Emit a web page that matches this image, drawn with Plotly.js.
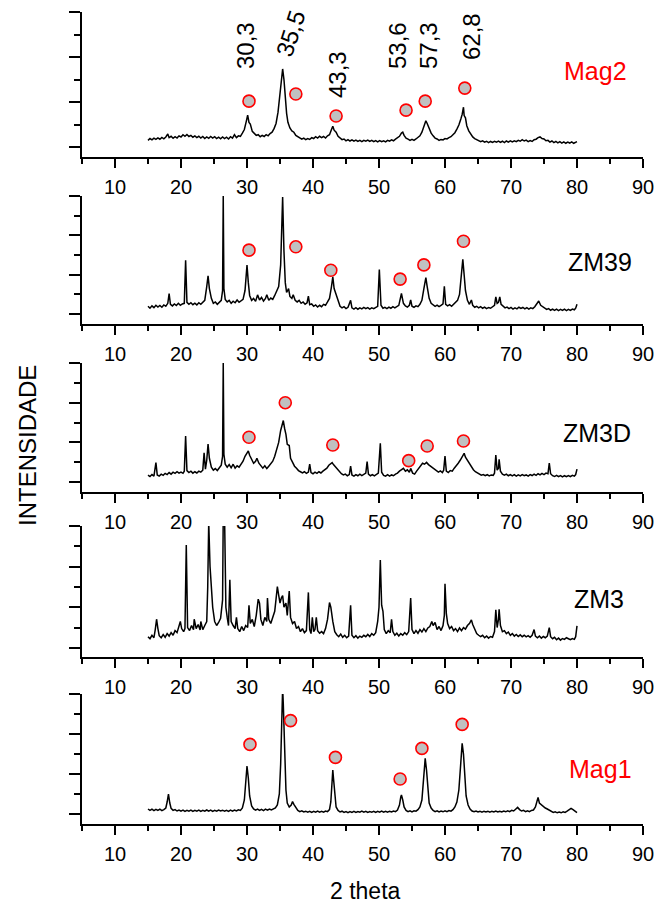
<!DOCTYPE html>
<html>
<head>
<meta charset="utf-8">
<script src="https://cdn.plot.ly/plotly-3.0.1.min.js"></script>
<style>html,body{margin:0;padding:0;background:#fff}#chart{width:657px;height:905px}</style>
</head>
<body>
<div id="chart"></div>
<script>
// ---- data ----
const sampleNames = ["Mag2", "ZM39", "ZM3D", "ZM3", "Mag1"];
const sampleColors = ["#ff0000", "#000000", "#000000", "#000000", "#ff0000"];
const xTicks = [10, 20, 30, 40, 50, 60, 70, 80, 90];
const peakLabels = ["30,3", "35,5", "43,3", "53,6", "57,3", "62,8"];

const mag2 = [[15.0,0.30],[15.3,0.38],[15.6,0.32],[15.9,0.40],[16.2,0.34],[16.5,0.41],[16.8,0.35],[17.1,0.43],[17.4,0.37],[17.7,0.45],[18.0,0.58],[18.2,0.42],[18.5,0.48],[18.8,0.39],[19.1,0.46],[19.4,0.40],[19.7,0.50],[20.0,0.45],[20.3,0.55],[20.6,0.48],[20.9,0.56],[21.2,0.47],[21.5,0.52],[21.8,0.44],[22.1,0.50],[22.4,0.42],[22.7,0.48],[23.0,0.40],[23.3,0.47],[23.6,0.38],[23.9,0.45],[24.2,0.39],[24.5,0.47],[24.8,0.40],[25.1,0.46],[25.4,0.38],[25.7,0.44],[26.0,0.37],[26.3,0.45],[26.6,0.38],[26.9,0.44],[27.2,0.36],[27.5,0.46],[27.8,0.40],[28.1,0.55],[28.4,0.42],[28.7,0.50],[29.0,0.48],[29.3,0.62],[29.6,0.78],[29.9,1.15],[30.1,1.42],[30.3,1.10],[30.5,1.02],[30.8,0.70],[31.1,0.60],[31.4,0.52],[31.7,0.55],[32.0,0.46],[32.3,0.52],[32.6,0.47],[32.9,0.55],[33.2,0.50],[33.5,0.60],[33.8,0.66],[34.1,0.82],[34.4,1.05],[34.7,1.55],[35.0,2.40],[35.2,3.20],[35.4,3.47],[35.6,3.00],[35.8,2.10],[36.0,1.50],[36.2,1.10],[36.5,0.85],[36.8,0.72],[37.1,0.66],[37.4,0.52],[37.7,0.45],[38.0,0.40],[38.3,0.35],[38.6,0.40],[38.9,0.33],[39.2,0.38],[39.5,0.34],[39.8,0.42],[40.1,0.38],[40.4,0.46],[40.7,0.40],[41.0,0.48],[41.3,0.42],[41.6,0.47],[41.9,0.40],[42.2,0.50],[42.5,0.55],[42.8,0.78],[43.0,0.93],[43.2,0.75],[43.5,0.66],[43.8,0.48],[44.1,0.40],[44.4,0.33],[44.7,0.36],[45.0,0.28],[45.3,0.33],[45.6,0.27],[45.9,0.32],[46.2,0.26],[46.5,0.31],[46.8,0.25],[47.1,0.30],[47.4,0.24],[47.7,0.30],[48.0,0.26],[48.3,0.31],[48.6,0.25],[48.9,0.30],[49.2,0.24],[49.5,0.29],[49.8,0.23],[50.1,0.29],[50.4,0.24],[50.7,0.28],[51.0,0.23],[51.3,0.30],[51.6,0.26],[51.9,0.32],[52.2,0.28],[52.5,0.35],[52.8,0.40],[53.1,0.48],[53.4,0.62],[53.6,0.66],[53.8,0.52],[54.1,0.40],[54.4,0.35],[54.7,0.30],[55.0,0.34],[55.3,0.30],[55.6,0.36],[55.9,0.42],[56.2,0.50],[56.5,0.66],[56.8,0.95],[57.1,1.17],[57.3,1.05],[57.6,0.80],[57.9,0.62],[58.2,0.50],[58.5,0.40],[58.8,0.36],[59.1,0.30],[59.4,0.34],[59.7,0.32],[60.0,0.38],[60.3,0.36],[60.6,0.42],[60.9,0.46],[61.2,0.55],[61.5,0.64],[61.8,0.80],[62.1,0.98],[62.4,1.25],[62.6,1.45],[62.8,1.77],[62.9,1.40],[63.1,1.30],[63.3,0.95],[63.6,0.72],[63.9,0.55],[64.2,0.45],[64.5,0.38],[64.8,0.32],[65.1,0.28],[65.4,0.24],[65.7,0.28],[66.0,0.22],[66.3,0.26],[66.6,0.20],[66.9,0.25],[67.2,0.21],[67.5,0.26],[67.8,0.22],[68.1,0.27],[68.4,0.21],[68.7,0.26],[69.0,0.20],[69.3,0.27],[69.6,0.22],[69.9,0.28],[70.2,0.23],[70.5,0.28],[70.8,0.24],[71.1,0.30],[71.4,0.26],[71.7,0.33],[72.0,0.27],[72.3,0.31],[72.6,0.24],[72.9,0.29],[73.2,0.25],[73.5,0.33],[73.8,0.35],[74.1,0.42],[74.4,0.45],[74.7,0.38],[75.0,0.36],[75.3,0.28],[75.6,0.30],[75.9,0.22],[76.2,0.27],[76.5,0.20],[76.8,0.25],[77.1,0.19],[77.4,0.24],[77.7,0.18],[78.0,0.23],[78.3,0.17],[78.6,0.22],[78.9,0.18],[79.2,0.23],[79.5,0.17],[79.8,0.21],[80.0,0.24]];

const zm39 = [[15.0,0.40],[15.3,0.30],[15.6,0.42],[15.9,0.33],[16.2,0.45],[16.5,0.36],[16.8,0.44],[17.1,0.35],[17.4,0.47],[17.7,0.40],[18.0,0.55],[18.2,1.05],[18.4,0.50],[18.7,0.42],[19.0,0.52],[19.3,0.44],[19.6,0.55],[19.9,0.45],[20.2,0.52],[20.5,0.55],[20.7,2.74],[20.9,0.60],[21.2,0.50],[21.5,0.58],[21.8,0.48],[22.1,0.56],[22.4,0.47],[22.7,0.58],[23.0,0.50],[23.3,0.62],[23.6,0.70],[23.9,1.40],[24.1,1.95],[24.3,1.30],[24.6,0.80],[24.9,0.55],[25.2,0.62],[25.5,0.50],[25.8,0.60],[26.1,0.70],[26.3,1.20],[26.4,6.00],[26.5,1.30],[26.7,0.75],[27.0,0.62],[27.3,0.70],[27.6,0.55],[27.9,0.66],[28.2,0.58],[28.5,0.72],[28.8,0.60],[29.1,0.68],[29.4,0.75],[29.7,1.20],[30.0,2.49],[30.2,1.60],[30.4,0.95],[30.7,0.70],[31.0,0.80],[31.3,0.65],[31.6,0.98],[31.9,0.72],[32.2,0.85],[32.5,0.66],[32.8,0.80],[33.0,0.98],[33.3,0.70],[33.6,0.82],[33.9,0.75],[34.2,0.95],[34.5,1.22],[34.8,1.40],[35.1,2.50],[35.4,5.95],[35.6,3.20],[35.8,1.60],[36.0,1.10],[36.3,1.30],[36.5,0.90],[36.8,0.80],[37.0,0.98],[37.3,0.70],[37.6,0.62],[37.9,0.70],[38.2,0.55],[38.5,0.62],[38.8,0.50],[39.1,0.58],[39.3,0.91],[39.5,0.48],[39.8,0.52],[40.1,0.40],[40.4,0.47],[40.7,0.36],[41.0,0.45],[41.3,0.38],[41.6,0.50],[41.9,0.45],[42.2,0.62],[42.5,0.80],[42.8,1.40],[43.0,1.90],[43.2,1.30],[43.5,1.00],[43.8,0.60],[44.1,0.40],[44.4,0.32],[44.7,0.38],[45.0,0.28],[45.3,0.35],[45.7,0.70],[45.9,0.32],[46.2,0.26],[46.5,0.33],[46.8,0.25],[47.1,0.32],[47.4,0.27],[47.7,0.34],[48.0,0.28],[48.3,0.33],[48.6,0.26],[48.9,0.32],[49.2,0.28],[49.5,0.34],[49.8,0.40],[50.05,2.27],[50.3,0.45],[50.6,0.30],[50.9,0.35],[51.2,0.28],[51.5,0.36],[51.8,0.30],[52.1,0.38],[52.4,0.32],[52.7,0.40],[53.0,0.45],[53.4,1.05],[53.7,0.55],[54.0,0.42],[54.3,0.36],[54.6,0.45],[54.8,0.72],[55.0,0.40],[55.3,0.35],[55.6,0.42],[55.9,0.38],[56.2,0.50],[56.5,0.70],[56.8,1.30],[57.1,1.86],[57.3,1.40],[57.6,0.80],[57.9,0.55],[58.2,0.45],[58.5,0.40],[58.8,0.46],[59.1,0.38],[59.4,0.45],[59.7,0.52],[59.9,1.42],[60.1,0.50],[60.4,0.42],[60.7,0.48],[61.0,0.40],[61.3,0.50],[61.6,0.55],[61.9,0.70],[62.2,1.00],[62.5,1.90],[62.7,2.78],[62.9,2.00],[63.1,1.20],[63.4,0.70],[63.7,0.50],[64.0,0.72],[64.2,0.45],[64.5,0.35],[64.8,0.40],[65.1,0.32],[65.4,0.38],[65.7,0.30],[66.0,0.36],[66.3,0.28],[66.6,0.34],[66.9,0.30],[67.2,0.38],[67.5,0.45],[67.7,0.88],[67.9,0.55],[68.1,0.60],[68.3,0.88],[68.5,0.50],[68.8,0.40],[69.1,0.32],[69.4,0.36],[69.7,0.28],[70.0,0.34],[70.3,0.26],[70.6,0.32],[70.9,0.27],[71.2,0.35],[71.5,0.29],[71.8,0.34],[72.1,0.27],[72.4,0.33],[72.7,0.26],[73.0,0.32],[73.3,0.28],[73.6,0.38],[73.9,0.50],[74.2,0.67],[74.5,0.45],[74.8,0.38],[75.1,0.30],[75.4,0.24],[75.7,0.28],[76.0,0.20],[76.3,0.26],[76.6,0.19],[76.9,0.25],[77.2,0.18],[77.5,0.24],[77.8,0.19],[78.1,0.25],[78.4,0.18],[78.7,0.24],[79.0,0.19],[79.3,0.26],[79.6,0.22],[79.8,0.30],[80.0,0.50]];

const zm3d = [[15.0,0.35],[15.3,0.28],[15.6,0.38],[15.9,0.30],[16.2,0.98],[16.4,0.36],[16.7,0.30],[17.0,0.40],[17.3,0.34],[17.6,0.44],[17.9,0.38],[18.2,0.48],[18.5,0.40],[18.8,0.50],[19.1,0.44],[19.4,0.52],[19.7,0.45],[20.0,0.50],[20.3,0.44],[20.5,0.55],[20.7,2.32],[20.9,0.58],[21.2,0.48],[21.5,0.55],[21.8,0.45],[22.1,0.52],[22.4,0.46],[22.7,0.55],[23.0,0.50],[23.3,0.60],[23.5,1.48],[23.7,0.65],[23.9,1.10],[24.1,1.92],[24.3,1.20],[24.6,0.75],[24.9,0.60],[25.2,0.68],[25.5,0.58],[25.8,0.70],[26.1,0.85],[26.3,1.30],[26.4,6.00],[26.5,1.40],[26.7,0.90],[27.0,0.75],[27.3,0.88],[27.6,0.72],[27.9,0.90],[28.2,0.70],[28.5,0.82],[28.8,0.75],[29.1,0.90],[29.4,1.05],[29.7,1.30],[30.0,1.45],[30.2,1.57],[30.4,1.35],[30.7,1.10],[31.0,0.95],[31.3,1.05],[31.5,1.20],[31.8,0.95],[32.1,0.80],[32.4,0.70],[32.7,0.82],[33.0,0.68],[33.3,0.80],[33.6,0.90],[33.9,1.05],[34.2,1.30],[34.5,1.60],[34.8,2.00],[35.1,2.60],[35.3,2.90],[35.5,3.10],[35.7,2.70],[35.9,2.40],[36.1,1.90],[36.4,1.84],[36.6,1.20],[36.9,1.00],[37.2,0.80],[37.5,0.70],[37.8,0.58],[38.1,0.52],[38.4,0.46],[38.7,0.52],[39.0,0.44],[39.3,0.50],[39.5,0.90],[39.7,0.48],[40.0,0.42],[40.3,0.50],[40.6,0.44],[40.9,0.52],[41.2,0.46],[41.5,0.55],[41.8,0.62],[42.1,0.70],[42.4,0.85],[42.7,0.95],[42.9,0.98],[43.1,0.88],[43.4,0.75],[43.7,0.62],[44.0,0.50],[44.3,0.42],[44.6,0.36],[44.9,0.40],[45.2,0.32],[45.5,0.38],[45.7,0.80],[45.9,0.36],[46.2,0.30],[46.5,0.38],[46.8,0.32],[47.1,0.40],[47.4,0.33],[47.7,0.38],[48.0,0.45],[48.2,1.03],[48.4,0.40],[48.7,0.32],[49.0,0.38],[49.3,0.31],[49.6,0.37],[49.9,0.45],[50.2,1.95],[50.4,0.50],[50.7,0.34],[51.0,0.30],[51.3,0.37],[51.6,0.30],[51.9,0.36],[52.2,0.32],[52.5,0.40],[52.8,0.45],[53.1,0.55],[53.4,0.62],[53.7,0.69],[54.0,0.55],[54.3,0.62],[54.6,0.50],[54.8,0.69],[55.1,0.45],[55.4,0.40],[55.7,0.55],[56.0,0.70],[56.3,0.85],[56.6,0.95],[56.9,0.90],[57.2,0.99],[57.5,0.88],[57.8,0.80],[58.1,0.70],[58.4,0.62],[58.7,0.55],[59.0,0.50],[59.3,0.56],[59.6,0.48],[59.8,0.60],[60.0,1.31],[60.2,0.55],[60.5,0.48],[60.8,0.58],[61.1,0.55],[61.4,0.70],[61.7,0.80],[62.0,0.95],[62.3,1.10],[62.6,1.25],[62.9,1.45],[63.1,1.25],[63.4,1.10],[63.7,0.90],[64.0,0.75],[64.3,0.62],[64.6,0.52],[64.9,0.45],[65.2,0.40],[65.5,0.35],[65.8,0.38],[66.1,0.32],[66.4,0.37],[66.7,0.31],[67.0,0.36],[67.3,0.34],[67.5,0.45],[67.7,1.36],[67.9,0.60],[68.1,0.70],[68.2,1.15],[68.4,0.55],[68.7,0.40],[69.0,0.35],[69.3,0.40],[69.6,0.32],[69.9,0.38],[70.2,0.31],[70.5,0.37],[70.8,0.30],[71.1,0.36],[71.4,0.31],[71.7,0.38],[72.0,0.32],[72.3,0.36],[72.6,0.30],[72.9,0.38],[73.2,0.33],[73.5,0.40],[73.8,0.34],[74.1,0.42],[74.4,0.36],[74.7,0.44],[75.0,0.38],[75.3,0.45],[75.6,0.42],[75.8,0.96],[76.0,0.42],[76.3,0.32],[76.6,0.28],[76.9,0.34],[77.2,0.27],[77.5,0.33],[77.8,0.26],[78.1,0.32],[78.4,0.27],[78.7,0.33],[79.0,0.27],[79.3,0.34],[79.6,0.30],[79.8,0.38],[80.0,0.65]];

const zm3 = [[15.0,0.55],[15.3,0.45],[15.6,0.62],[15.9,0.50],[16.1,0.90],[16.3,1.41],[16.5,0.95],[16.7,0.60],[17.0,0.50],[17.3,0.65],[17.6,0.52],[17.9,0.70],[18.2,0.58],[18.5,0.75],[18.8,0.62],[19.1,0.85],[19.4,0.75],[19.7,1.05],[19.9,1.30],[20.1,0.95],[20.4,0.80],[20.6,0.95],[20.8,5.07],[21.0,1.00],[21.3,0.85],[21.6,1.10],[21.9,0.90],[22.0,1.41],[22.3,0.95],[22.6,1.15],[22.9,0.88],[23.0,1.30],[23.3,0.90],[23.6,1.10],[23.9,1.30],[24.05,3.00],[24.2,6.20],[24.4,4.00],[24.6,3.19],[24.8,2.00],[25.1,1.30],[25.4,1.10],[25.7,1.25],[26.0,1.45],[26.3,2.36],[26.4,6.50],[26.6,6.50],[26.8,2.00],[27.0,1.50],[27.2,1.10],[27.4,3.35],[27.6,1.30],[27.9,1.10],[28.2,0.95],[28.4,1.50],[28.6,0.95],[28.9,0.80],[29.2,1.05],[29.5,0.85],[29.8,1.10],[30.1,1.00],[30.3,2.10],[30.5,1.20],[30.8,1.40],[31.1,1.05],[31.4,1.60],[31.7,2.40],[31.9,2.20],[32.1,1.40],[32.4,1.10],[32.7,1.50],[33.0,1.30],[33.1,2.45],[33.3,1.40],[33.6,1.20],[33.9,1.50],[34.2,1.80],[34.4,2.40],[34.6,3.02],[34.8,2.60],[35.0,2.20],[35.2,2.45],[35.4,2.57],[35.6,2.00],[35.9,2.20],[36.1,1.60],[36.4,2.80],[36.6,1.50],[36.9,1.20],[37.2,1.30],[37.5,0.95],[37.8,1.05],[38.1,0.80],[38.4,0.95],[38.7,0.75],[39.0,0.85],[39.3,2.73],[39.5,0.90],[39.7,0.70],[39.9,1.50],[40.1,0.80],[40.3,0.90],[40.5,1.50],[40.7,0.85],[41.0,0.72],[41.3,0.80],[41.6,0.70],[41.9,0.95],[42.2,1.40],[42.5,2.23],[42.7,2.00],[43.0,1.30],[43.3,0.80],[43.6,0.65],[43.9,0.55],[44.2,0.68],[44.5,0.52],[44.8,0.62],[45.1,0.50],[45.4,0.58],[45.7,2.10],[45.9,0.62],[46.2,0.50],[46.5,0.60],[46.8,0.48],[47.1,0.58],[47.4,0.52],[47.7,0.62],[48.0,0.55],[48.3,0.66],[48.6,0.56],[48.9,0.70],[49.2,0.62],[49.5,0.75],[49.8,1.30],[50.0,2.00],[50.2,4.33],[50.4,2.10],[50.6,1.80],[50.8,0.90],[51.1,0.70],[51.4,0.85],[51.7,0.75],[51.9,1.41],[52.1,0.80],[52.4,0.62],[52.7,0.72],[53.0,0.58],[53.3,0.70],[53.6,0.62],[53.9,0.75],[54.2,0.65],[54.5,0.80],[54.8,2.45],[55.0,0.90],[55.3,0.70],[55.6,0.85],[55.9,0.72],[56.2,0.90],[56.5,0.78],[56.8,0.95],[57.1,0.80],[57.4,0.98],[57.7,1.05],[58.0,1.30],[58.2,1.10],[58.5,1.25],[58.8,0.90],[59.1,1.05],[59.4,0.85],[59.7,1.10],[59.9,1.60],[60.0,3.15],[60.2,1.70],[60.4,1.20],[60.7,0.95],[61.0,1.05],[61.3,0.85],[61.6,0.95],[61.9,0.80],[62.2,0.98],[62.5,0.85],[62.8,1.00],[63.1,0.92],[63.4,1.10],[63.7,1.20],[64.0,1.38],[64.2,1.15],[64.5,0.90],[64.8,0.70],[65.1,0.62],[65.4,0.55],[65.7,0.62],[66.0,0.50],[66.3,0.58],[66.6,0.48],[66.9,0.56],[67.2,0.52],[67.5,0.80],[67.7,1.87],[67.9,1.00],[68.1,1.40],[68.2,1.90],[68.4,1.10],[68.7,0.80],[69.0,0.85],[69.3,0.70],[69.6,0.78],[69.9,0.62],[70.2,0.70],[70.5,0.58],[70.8,0.66],[71.1,0.56],[71.4,0.64],[71.7,0.55],[72.0,0.62],[72.3,0.54],[72.6,0.60],[72.9,0.52],[73.2,0.62],[73.5,0.90],[73.7,0.58],[74.0,0.50],[74.3,0.58],[74.6,0.48],[74.9,0.56],[75.2,0.50],[75.5,0.58],[75.8,1.00],[76.0,0.55],[76.3,0.45],[76.6,0.52],[76.9,0.40],[77.2,0.48],[77.5,0.38],[77.8,0.46],[78.1,0.42],[78.4,0.50],[78.7,0.45],[79.0,0.40],[79.3,0.46],[79.6,0.42],[79.8,0.55],[80.0,1.08]];

const mag1 = [[15.0,0.25],[15.3,0.18],[15.6,0.24],[15.9,0.17],[16.2,0.23],[16.5,0.18],[16.8,0.24],[17.1,0.17],[17.4,0.22],[17.7,0.30],[17.9,0.60],[18.1,1.00],[18.3,0.55],[18.5,0.28],[18.8,0.18],[19.1,0.22],[19.4,0.15],[19.7,0.20],[20.0,0.14],[20.3,0.19],[20.6,0.13],[20.9,0.18],[21.2,0.14],[21.5,0.19],[21.8,0.13],[22.1,0.18],[22.4,0.14],[22.7,0.19],[23.0,0.13],[23.3,0.18],[23.6,0.14],[23.9,0.20],[24.2,0.14],[24.5,0.19],[24.8,0.13],[25.1,0.18],[25.4,0.14],[25.7,0.20],[26.0,0.15],[26.3,0.19],[26.6,0.14],[26.9,0.18],[27.2,0.13],[27.5,0.19],[27.8,0.14],[28.1,0.20],[28.4,0.15],[28.7,0.21],[29.0,0.18],[29.3,0.30],[29.6,0.70],[29.8,1.50],[30.0,2.40],[30.2,1.80],[30.4,0.90],[30.7,0.40],[31.0,0.25],[31.3,0.19],[31.6,0.24],[31.9,0.18],[32.2,0.23],[32.5,0.17],[32.8,0.24],[33.1,0.19],[33.4,0.25],[33.7,0.20],[34.0,0.26],[34.3,0.30],[34.6,0.45],[34.9,1.00],[35.1,2.50],[35.3,5.00],[35.4,6.30],[35.5,5.50],[35.7,3.00],[35.9,1.20],[36.1,0.55],[36.4,0.35],[36.7,0.45],[36.9,0.62],[37.1,0.48],[37.4,0.30],[37.7,0.18],[38.0,0.12],[38.3,0.16],[38.6,0.10],[38.9,0.14],[39.2,0.09],[39.5,0.13],[39.8,0.08],[40.1,0.13],[40.4,0.09],[40.7,0.14],[41.0,0.09],[41.3,0.13],[41.6,0.09],[41.9,0.15],[42.2,0.12],[42.5,0.22],[42.7,0.60],[42.9,1.60],[43.0,2.20],[43.1,1.80],[43.3,0.80],[43.5,0.35],[43.8,0.18],[44.1,0.10],[44.4,0.14],[44.7,0.08],[45.0,0.12],[45.3,0.07],[45.6,0.12],[45.9,0.08],[46.2,0.13],[46.5,0.08],[46.8,0.12],[47.1,0.09],[47.4,0.14],[47.7,0.09],[48.0,0.13],[48.3,0.08],[48.6,0.12],[48.9,0.09],[49.2,0.13],[49.5,0.08],[49.8,0.13],[50.1,0.09],[50.4,0.14],[50.7,0.09],[51.0,0.13],[51.3,0.09],[51.6,0.14],[51.9,0.10],[52.2,0.15],[52.5,0.12],[52.8,0.20],[53.1,0.45],[53.3,0.85],[53.4,0.95],[53.6,0.70],[53.8,0.35],[54.1,0.18],[54.4,0.12],[54.7,0.16],[55.0,0.11],[55.3,0.16],[55.6,0.14],[55.9,0.22],[56.2,0.35],[56.5,0.70],[56.8,2.00],[57.0,2.78],[57.2,2.20],[57.4,1.20],[57.6,0.55],[57.9,0.30],[58.2,0.18],[58.5,0.12],[58.8,0.16],[59.1,0.10],[59.4,0.15],[59.7,0.11],[60.0,0.16],[60.3,0.12],[60.6,0.17],[60.9,0.14],[61.2,0.22],[61.5,0.35],[61.8,0.60],[62.1,1.20],[62.4,2.60],[62.6,3.53],[62.8,3.00],[63.0,1.80],[63.2,0.90],[63.5,0.45],[63.8,0.25],[64.1,0.15],[64.4,0.11],[64.7,0.15],[65.0,0.10],[65.3,0.14],[65.6,0.09],[65.9,0.14],[66.2,0.10],[66.5,0.14],[66.8,0.09],[67.1,0.14],[67.4,0.10],[67.7,0.15],[68.0,0.10],[68.3,0.14],[68.6,0.10],[68.9,0.15],[69.2,0.11],[69.5,0.16],[69.8,0.12],[70.1,0.18],[70.4,0.15],[70.7,0.24],[71.0,0.33],[71.3,0.22],[71.6,0.15],[71.9,0.18],[72.2,0.12],[72.5,0.16],[72.8,0.12],[73.1,0.18],[73.4,0.20],[73.7,0.35],[73.9,0.60],[74.1,0.83],[74.3,0.55],[74.6,0.45],[74.9,0.40],[75.2,0.30],[75.5,0.25],[75.8,0.18],[76.1,0.12],[76.4,0.08],[76.7,0.11],[77.0,0.06],[77.3,0.10],[77.6,0.06],[77.9,0.11],[78.2,0.08],[78.5,0.14],[78.8,0.20],[79.1,0.28],[79.4,0.22],[79.7,0.12],[80.0,0.07]];

// phase markers (grey circles) per panel
const markMag2X = [30.3, 37.4, 43.5, 54.1, 57.0, 63.0];
const markMag2Y = [2.04, 2.36, 1.38, 1.64, 2.04, 2.62];
const markZM39X = [30.3, 37.4, 42.7, 53.2, 56.8, 62.8];
const markZM39Y = [3.25, 3.42, 2.23, 1.78, 2.50, 3.70];
const markZM3DX = [30.3, 35.8, 43.0, 54.5, 57.3, 62.8];
const markZM3DY = [2.26, 4.00, 1.87, 1.08, 1.82, 2.07];
const markMag1X = [30.45, 36.6, 43.4, 53.2, 56.5, 62.6];
const markMag1Y = [3.48, 4.67, 2.83, 1.75, 3.28, 4.48];

// ---- layout geometry ----
const W = 657, H = 905;
const series = [mag2, zm39, zm3d, zm3, mag1];
const marks = [[markMag2X, markMag2Y], [markZM39X, markZM39Y], [markZM3DX, markZM3DY], null, [markMag1X, markMag1Y]];
const panelPx = [[12, 157], [196, 324], [363, 492], [526, 657], [694, 824]];
const yLow = [-0.44, -0.5, -0.5, -0.45, -0.5];
const FONT = "Liberation Sans, Arial, Helvetica, sans-serif";

const data = [];
const layout = {
  width: W, height: H,
  margin: {l: 0, r: 0, t: 0, b: 0},
  paper_bgcolor: "#fff", plot_bgcolor: "#fff",
  showlegend: false,
  font: {family: FONT, color: "#000"},
  annotations: []
};

series.forEach((s, i) => {
  const n = i === 0 ? "" : String(i + 1);
  data.push({
    x: s.map(p => p[0]), y: s.map(p => p[1]),
    xaxis: "x" + n, yaxis: "y" + n,
    type: "scatter", mode: "lines",
    line: {color: "#000", width: 1.5},
    hoverinfo: "skip"
  });
  if (marks[i]) {
    data.push({
      x: marks[i][0], y: marks[i][1],
      xaxis: "x" + n, yaxis: "y" + n,
      type: "scatter", mode: "markers", cliponaxis: false,
      marker: {size: 12, color: "#c0c0c0", line: {color: "#ff0000", width: 1.6}},
      hoverinfo: "skip"
    });
  }
  const [top, bot] = panelPx[i];
  layout["xaxis" + n] = {
    domain: [82 / W, 643 / W], range: [5, 90], anchor: "y" + n,
    tickmode: "array", tickvals: xTicks, ticktext: xTicks.map(String),
    ticks: "outside", ticklen: 9, tickwidth: 2, tickcolor: "#000",
    minor: {tickmode: "linear", tick0: 5, dtick: 10, ticks: "outside", ticklen: 5, tickwidth: 2, tickcolor: "#000", showgrid: false},
    showline: true, linecolor: "#000", linewidth: 2,
    showgrid: false, zeroline: false,
    tickfont: {size: 20, family: FONT, color: "#000"},
    ticklabelstandoff: 2
  };
  layout["yaxis" + n] = {
    domain: [1 - bot / H, 1 - top / H], range: [yLow[i], 6], anchor: "x" + n,
    tickmode: "array", tickvals: [0, 2, 4, 6],
    ticks: "outside", ticklen: 11, tickwidth: 2, tickcolor: "#000",
    minor: {tickmode: "array", tickvals: [1, 3, 5], ticks: "outside", ticklen: 6, tickwidth: 2, tickcolor: "#000", showgrid: false},
    showticklabels: false,
    showline: true, linecolor: "#000", linewidth: 2,
    showgrid: false, zeroline: false
  };
});

// sample names
const namePos = [[595, 71], [600, 262], [597, 433], [599, 599], [600, 769]];
sampleNames.forEach((t, i) => {
  layout.annotations.push({
    xref: "paper", yref: "paper", x: namePos[i][0] / W, y: 1 - namePos[i][1] / H,
    xanchor: "center", yanchor: "middle", showarrow: false,
    text: t, font: {size: 25, family: FONT, color: sampleColors[i]}
  });
});

// peak position labels (top panel)
const peakPos = [[245, 46, -90], [291, 34, -72], [337, 75, -90], [397, 46, -90], [428, 46, -90], [471, 37, -90]];
peakLabels.forEach((t, i) => {
  layout.annotations.push({
    xref: "paper", yref: "paper", x: peakPos[i][0] / W, y: 1 - peakPos[i][1] / H,
    xanchor: "center", yanchor: "middle", showarrow: false, textangle: peakPos[i][2],
    text: t, font: {size: 24, family: FONT, color: "#000"}
  });
});

// axis titles
layout.annotations.push({
  xref: "paper", yref: "paper", x: 27 / W, y: 1 - 446 / H,
  xanchor: "center", yanchor: "middle", showarrow: false, textangle: -90,
  text: "INTENSIDADE", font: {size: 24, family: FONT, color: "#000"}
});
layout.annotations.push({
  xref: "paper", yref: "paper", x: 365 / W, y: 1 - 891 / H,
  xanchor: "center", yanchor: "middle", showarrow: false,
  text: "2 theta", font: {size: 23, family: FONT, color: "#000"}
});

Plotly.newPlot("chart", data, layout, {displayModeBar: false, staticPlot: true});
</script>
</body>
</html>
